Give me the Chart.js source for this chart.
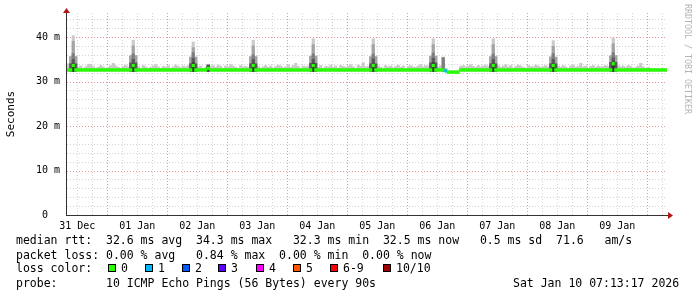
<!DOCTYPE html>
<html>
<head>
<meta charset="utf-8">
<script src="https://cdn.jsdelivr.net/npm/chart.js@4"></script>
<style>
  body { margin: 0; background: #fff; }
  #wrap { position: relative; width: 697px; height: 297px; overflow: hidden; background: #fff; }
  #c { position: absolute; left: 0; top: 0; }
  .txt { position: absolute; font: 11.5px "DejaVu Sans Mono", monospace; line-height: 14px; white-space: pre; color: #000; }
  .box { position: absolute; top: 264px; width: 6px; height: 6px; border: 1px solid #000; }
  #mark { position: absolute; left: 683px; top: 4px; font: 8.3px "DejaVu Sans Mono", monospace; color: #b4b4b4;
          writing-mode: vertical-rl; white-space: pre; line-height: 9px; }
</style>
</head>
<body>
<div id="wrap">
  <canvas id="c" width="697" height="297"></canvas>
  <div id="mark">RRDTOOL / TOBI OETIKER</div>
  <div class="txt" style="left:16px;top:233px">median rtt:  32.6 ms avg  34.3 ms max   32.3 ms min  32.5 ms now   0.5 ms sd  71.6   am/s</div>
  <div class="txt" style="left:16px;top:248px">packet loss: 0.00 % avg   0.84 % max  0.00 % min  0.00 % now</div>
  <div class="txt" style="left:16px;top:261px">loss color:</div>
  <div id="legend"></div>
  <div class="txt" style="left:16px;top:276px">probe:       10 ICMP Echo Pings (56 Bytes) every 90s</div>
  <div class="txt" style="left:513px;top:276px">Sat Jan 10 07:13:17 2026</div>
</div>
<script>
// one bucket = 1 hour, 240 buckets, left edge of the graph is 31 Dec ~07:54
const dayLabels = ['31 Dec', '01 Jan', '02 Jan', '03 Jan', '04 Jan', '05 Jan', '06 Jan', '07 Jan', '08 Jan', '09 Jan'];
const firstNoon = 4.1;   // hours from left edge to 31 Dec 12:00
const yTicks = [0, 10, 20, 30, 40];
const smokeBase = 32.3;  // lowest ping, hidden under the median line

// median rtt (ms)
const median = [
  32.6, 32.6, 33.6, 32.6, 32.6, 32.6,  32.6, 32.6, 32.6, 32.6, 32.6, 32.6,  32.6, 32.6, 32.6, 32.6, 32.6, 32.6,  32.6, 32.6, 32.6, 32.6, 32.6, 32.6,
  32.6, 32.6, 33.6, 32.6, 32.6, 32.6,  32.6, 32.6, 32.6, 32.6, 32.6, 32.6,  32.6, 32.6, 32.6, 32.6, 32.6, 32.6,  32.6, 32.6, 32.6, 32.6, 32.6, 32.6,
  32.6, 32.6, 33.6, 32.6, 32.6, 32.6,  32.6, 32.6, 33.0, 32.6, 32.6, 32.6,  32.6, 32.6, 32.6, 32.6, 32.6, 32.6,  32.6, 32.6, 32.6, 32.6, 32.6, 32.6,
  32.6, 32.6, 33.6, 32.6, 32.6, 32.6,  32.6, 32.6, 32.6, 32.6, 32.6, 32.6,  32.6, 32.6, 32.6, 32.6, 32.6, 32.6,  32.6, 32.6, 32.6, 32.6, 32.6, 32.6,
  32.6, 32.6, 33.6, 32.6, 32.6, 32.6,  32.6, 32.6, 32.6, 32.6, 32.6, 32.6,  32.6, 32.6, 32.6, 32.6, 32.6, 32.6,  32.6, 32.6, 32.6, 32.6, 32.6, 32.6,
  32.6, 32.6, 33.6, 32.6, 32.6, 32.6,  32.6, 32.6, 32.6, 32.6, 32.6, 32.6,  32.6, 32.6, 32.6, 32.6, 32.6, 32.6,  32.6, 32.6, 32.6, 32.6, 32.6, 32.6,
  32.6, 32.6, 33.6, 32.6, 32.6, 32.6,  32.6, 32.4, 32.1, 32.1, 32.1, 32.1,  32.1, 32.6, 32.6, 32.6, 32.6, 32.6,  32.6, 32.6, 32.6, 32.6, 32.6, 32.6,
  32.6, 32.6, 33.6, 32.6, 32.6, 32.6,  32.6, 32.6, 32.6, 32.6, 32.6, 32.6,  32.6, 32.6, 32.6, 32.6, 32.6, 32.6,  32.6, 32.6, 32.6, 32.6, 32.6, 32.6,
  32.6, 32.6, 33.6, 32.6, 32.6, 32.6,  32.6, 32.6, 32.6, 32.6, 32.6, 32.6,  32.6, 32.6, 32.6, 32.6, 32.6, 32.6,  32.6, 32.6, 32.6, 32.6, 32.6, 32.6,
  32.6, 32.6, 34.0, 32.6, 32.6, 32.6,  32.6, 32.6, 32.6, 32.6, 32.6, 32.6,  32.6, 32.6, 32.6, 32.6, 32.6, 32.6,  32.6, 32.6, 32.6, 32.6, 32.6, 32.6
];

// lost pings out of 10
const loss = [
  0, 0, 0, 0, 0, 0,  0, 0, 0, 0, 0, 0,  0, 0, 0, 0, 0, 0,  0, 0, 0, 0, 0, 0,
  0, 0, 0, 0, 0, 0,  0, 0, 0, 0, 0, 0,  0, 0, 0, 0, 0, 0,  0, 0, 0, 0, 0, 0,
  0, 0, 0, 0, 0, 0,  0, 0, 0, 0, 0, 0,  0, 0, 0, 0, 0, 0,  0, 0, 0, 0, 0, 0,
  0, 0, 0, 0, 0, 0,  0, 0, 0, 0, 0, 0,  0, 0, 0, 0, 0, 0,  0, 0, 0, 0, 0, 0,
  0, 0, 0, 0, 0, 0,  0, 0, 0, 0, 0, 0,  0, 0, 0, 0, 0, 0,  0, 0, 0, 0, 0, 0,
  0, 0, 0, 0, 0, 0,  0, 0, 0, 0, 0, 0,  0, 0, 0, 0, 0, 0,  0, 0, 0, 0, 0, 0,
  0, 0, 0, 0, 0, 0,  0, 1, 0, 0, 0, 0,  0, 0, 0, 0, 0, 0,  0, 0, 0, 0, 0, 0,
  0, 0, 0, 0, 0, 0,  0, 0, 0, 0, 0, 0,  0, 0, 0, 0, 0, 0,  0, 0, 0, 0, 0, 0,
  0, 0, 0, 0, 0, 0,  0, 0, 0, 0, 0, 0,  0, 0, 0, 0, 0, 0,  0, 0, 0, 0, 0, 0,
  0, 0, 0, 0, 0, 0,  0, 0, 0, 0, 0, 0,  0, 0, 0, 0, 0, 0,  0, 0, 0, 0, 0, 0
];

// slowest ping per bucket (outer smoke)
const smokeTop = [
  34.0, 35.6, 40.3, 35.6, 33.2, 33.5,  33.0, 33.3, 33.8, 33.9, 33.4, 33.0,  33.2, 33.6, 33.3, 33.0, 33.2, 33.6,  34.1, 33.5, 33.2, 33.0, 33.4, 33.7,
  33.3, 35.6, 39.3, 35.8, 33.4, 33.0,  33.6, 33.3, 33.0, 33.2, 33.5, 33.8,  33.3, 33.0, 33.4, 33.2, 33.6, 33.0,  33.3, 33.7, 33.4, 33.1, 33.5, 33.3,
  33.6, 35.4, 38.9, 35.5, 33.3, 33.5,  33.0, 33.2, 33.9, 33.4, 33.6, 33.2,  33.7, 33.4, 33.0, 33.5, 33.3, 33.8,  33.5, 33.2, 33.0, 33.6, 33.3, 33.4,
  33.2, 35.5, 39.3, 35.6, 33.4, 33.0,  33.3, 33.6, 33.2, 33.5, 33.0, 33.4,  33.7, 33.5, 33.1, 33.3, 33.8, 33.2,  33.6, 34.1, 33.4, 33.0, 33.5, 33.3,
  33.5, 35.6, 39.6, 35.7, 33.2, 33.6,  33.0, 33.4, 33.3, 33.7, 33.2, 33.5,  33.0, 33.6, 33.4, 33.2, 33.5, 33.8,  33.3, 33.0, 33.7, 33.4, 34.2, 33.3,
  33.4, 35.5, 39.6, 35.6, 33.5, 33.2,  33.0, 33.6, 33.3, 33.5, 33.1, 33.4,  33.7, 33.2, 33.5, 33.0, 33.4, 33.6,  33.3, 33.2, 33.5, 33.8, 33.3, 33.6,
  33.5, 35.6, 39.6, 35.7, 33.3, 33.6,  35.5, 33.0, 32.4, 32.4, 32.4, 32.4,  32.4, 33.4, 33.6, 33.3, 33.5, 33.8,  33.4, 33.2, 33.6, 33.3, 33.5, 33.7,
  33.4, 35.5, 39.6, 35.6, 33.6, 33.2,  33.5, 33.8, 33.3, 33.6, 33.0, 33.4,  33.7, 33.5, 33.2, 33.0, 33.6, 33.4,  33.3, 33.7, 33.5, 33.2, 33.4, 33.6,
  33.3, 35.6, 39.2, 35.5, 33.5, 33.2,  33.6, 33.3, 33.0, 33.5, 33.7, 33.2,  33.4, 34.1, 33.3, 33.5, 33.0, 33.4,  33.6, 33.2, 33.5, 33.3, 33.4, 33.6,
  33.4, 35.7, 39.8, 35.8, 33.6, 33.3,  33.5, 33.2, 33.6, 33.4, 33.0, 33.2,  33.5, 34.1, 33.3, 33.0, 33.2, 33.0,  32.9, 32.9, 32.9, 32.9, 32.9, 32.9
];

// daily bursts: bucket index and the inner smoke levels (ms)
const burstAt    = [2, 26, 50, 56, 74, 98, 122, 146, 150, 170, 194, 218];
const burstUpper = [39.0, 38.0, 37.6, 33.8, 38.0, 38.3, 38.3, 38.3, 35.4, 38.3, 37.9, 38.5];
const burstMid   = [36.3, 36.2, 36.5, 33.7, 36.0, 36.2, 36.2, 36.4, 35.3, 36.2, 36.3, 36.5];
const burstLow   = [35.0, 35.0, 35.2, 33.6, 35.0, 35.0, 35.1, 35.2, null, 35.0, 35.0, 35.3];
const burstCore  = [34.0, 34.0, 34.2, 33.5, 34.0, 34.1, 34.0, 34.2, null, 34.0, 34.0, 34.4];
const sideUpper  = [35.6, 35.8, 35.5, null, 35.6, 35.7, 35.6, 35.7, null, 35.6, 35.5, 35.8];
const sideLow    = [34.0, 34.2, 34.0, null, 34.0, 34.1, 34.0, 34.2, null, 34.0, 34.0, 34.3];

const lossLabels = ['0', '1', '2', '3', '4', '5', '6-9', '10/10'];
const lossColors = ['#26ff00', '#00b8ff', '#0059ff', '#5e00ff', '#ff00ff', '#ff5500', '#ff0000', '#a10000'];
const legendLeft = [108, 145, 182, 218, 256, 293, 330, 383];

const shades = ['#cacaca', '#a4a4a4', '#7e7e7e', '#585858', '#323232'];
const halfBand = 0.3; // half thickness of the median band, ms

function lossColor(n) {
  if (n <= 5) return lossColors[n];
  return n < 10 ? lossColors[6] : lossColors[7];
}

// legend boxes
const legend = document.getElementById('legend');
lossLabels.forEach((lab, i) => {
  const b = document.createElement('div');
  b.className = 'box';
  b.style.left = legendLeft[i] + 'px';
  b.style.background = lossColors[i];
  legend.appendChild(b);
  const t = document.createElement('div');
  t.className = 'txt';
  t.style.left = (legendLeft[i] + 13) + 'px';
  t.style.top = '261px';
  t.textContent = lab;
  legend.appendChild(t);
});

// smoke layers
const layers = [[], [], [], [], []];
smokeTop.forEach((v, i) => layers[0].push({ x: i + 0.5, y: [smokeBase, v] }));
burstAt.forEach((idx, k) => {
  const put = (layer, at, v) => { if (v != null) layers[layer].push({ x: at + 0.5, y: [smokeBase, v] }); };
  put(1, idx, burstUpper[k]);
  put(2, idx, burstMid[k]);
  put(3, idx, burstLow[k]);
  put(4, idx, burstCore[k]);
  put(1, idx - 1, sideUpper[k]);
  put(1, idx + 1, sideUpper[k]);
  put(3, idx - 1, sideLow[k]);
  put(3, idx + 1, sideLow[k]);
});

function barSet(data, color, order) {
  return {
    type: 'bar', data, backgroundColor: color, order,
    grouped: false, barPercentage: 1, categoryPercentage: 1, borderWidth: 0
  };
}

const datasets = layers.map((pts, i) => barSet(pts, shades[i], 10 - i));
datasets.push(barSet(
  median.map((m, i) => ({ x: i + 0.5, y: [m - halfBand, m + halfBand] })),
  loss.map(lossColor), 0));

const rrdGrid = {
  id: 'rrdGrid',
  beforeDatasetsDraw(chart) {
    const { ctx, chartArea: a, scales: { x, y } } = chart;
    const minor = 'rgba(160,160,160,0.45)';
    const major = 'rgba(215,80,80,0.6)';
    ctx.save();
    ctx.lineWidth = 1;
    ctx.setLineDash([1, 2]);
    const hl = (v, c) => {
      const p = Math.round(y.getPixelForValue(v)) + 0.5;
      ctx.strokeStyle = c; ctx.beginPath(); ctx.moveTo(a.left, p); ctx.lineTo(a.right, p); ctx.stroke();
    };
    const vl = (v, c) => {
      const p = Math.round(x.getPixelForValue(v)) + 0.5;
      ctx.strokeStyle = c; ctx.beginPath(); ctx.moveTo(p, a.top); ctx.lineTo(p, a.bottom); ctx.stroke();
    };
    for (let v = 2; v < y.max; v += 2) hl(v, v % 10 === 0 ? major : minor);
    for (let j = 0; firstNoon + 6 * j < x.max; j++) vl(firstNoon + 6 * j, j % 4 === 2 ? major : minor);
    ctx.restore();
  },
  afterDatasetsDraw(chart) {
    const { ctx, chartArea: a } = chart;
    ctx.save();
    ctx.fillStyle = '#333';
    ctx.fillRect(a.left - 1, a.bottom, a.right - a.left + 3, 1);
    ctx.fillRect(a.left - 1, a.top - 2, 1, a.bottom - a.top + 3);
    ctx.fillStyle = '#b01818';
    ctx.beginPath();
    ctx.moveTo(a.right + 1, a.bottom - 3);
    ctx.lineTo(a.right + 6, a.bottom + 0.5);
    ctx.lineTo(a.right + 1, a.bottom + 4);
    ctx.fill();
    ctx.beginPath();
    ctx.moveTo(a.left - 4, a.top);
    ctx.lineTo(a.left - 0.5, a.top - 5);
    ctx.lineTo(a.left + 3, a.top);
    ctx.fill();
    ctx.restore();
  }
};

const tickFont = { family: 'DejaVu Sans Mono', size: 10 };

new Chart(document.getElementById('c'), {
  type: 'bar',
  data: { datasets },
  options: {
    responsive: false,
    animation: false,
    events: [],
    devicePixelRatio: 1,
    layout: { padding: { top: 13, right: 30, bottom: 62, left: 0 } },
    plugins: { legend: { display: false }, tooltip: { enabled: false } },
    scales: {
      x: {
        type: 'linear', min: 0, max: 240, offset: false,
        grid: { display: false, drawTicks: false },
        border: { display: false },
        afterBuildTicks: s => { s.ticks = dayLabels.map((d, k) => ({ value: firstNoon + 24 * k })); },
        ticks: {
          autoSkip: false, maxRotation: 0, padding: 5, color: '#000', font: tickFont,
          callback: (v, i) => dayLabels[i]
        },
        afterFit: s => { s.height = 20; }
      },
      y: {
        min: 0, max: 45.4,
        grid: { display: false, drawTicks: false },
        border: { display: false },
        afterBuildTicks: s => { s.ticks = yTicks.map(v => ({ value: v })); },
        ticks: {
          padding: 7, color: '#000', font: tickFont,
          callback: v => v === 0 ? '0  ' : v + ' m'
        },
        title: {
          display: true, text: 'Seconds', color: '#000',
          font: { family: 'DejaVu Sans Mono', size: 11 },
          padding: { top: 5, bottom: 0 }
        },
        afterFit: s => { s.width = 67; }
      }
    }
  },
  plugins: [rrdGrid]
});
</script>
</body>
</html>
